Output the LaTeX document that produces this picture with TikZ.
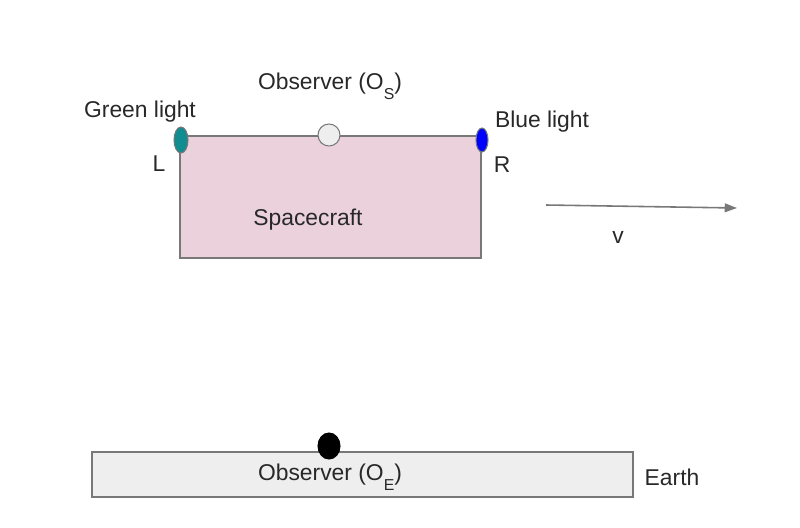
\documentclass[tikz,border=0pt]{standalone}
\usepackage{fontspec}
\setmainfont{Liberation Sans}
\usetikzlibrary{arrows.meta,shapes.geometric}

\definecolor{craftpink}{RGB}{234,209,220}
\definecolor{lightgrey}{RGB}{238,238,238}
\definecolor{edgegrey}{RGB}{120,120,120}
\definecolor{tealgreen}{RGB}{17,140,145}
\definecolor{txtgrey}{RGB}{40,40,40}

\begin{document}
\begin{tikzpicture}[x=0.02cm,y=-0.02cm,>={Triangle[length=7pt,width=5pt]},
		every node/.style={font=\fontsize{13}{15}\selectfont,text=txtgrey}]
		\tikzstyle{body}=[draw=edgegrey,line width=0.9pt,inner sep=0pt]
		\tikzstyle{lamp}=[ellipse,draw=edgegrey,line width=0.6pt,inner sep=0pt]
		\useasboundingbox (0,0) rectangle (800,527);
		% spacecraft
		\node[body,fill=craftpink,minimum width=301*0.02cm,minimum height=122*0.02cm,anchor=north west] (S) at (179,135) {};
		\node (SL) at (308,220) {Spacecraft};
		\node[lamp,fill=tealgreen,minimum width=14*0.02cm,minimum height=26*0.02cm] (G) at (181,140) {};
		\node[lamp,fill=blue,minimum width=12*0.02cm,minimum height=24*0.02cm] (B) at (482,140) {};
		\node[lamp,fill=lightgrey,minimum width=22*0.02cm,minimum height=22*0.02cm] (OS) at (329,135) {};
		\node (GL) at (140,112) {Green light};
		\node (BL) at (542,122) {Blue light};
		\node (OSL) at (330,86) {Observer (O\raisebox{-0.8ex}{\fontsize{9}{10}\selectfont S})};
		\node (L) at (159,164) {L};
		\node (R) at (502,165) {R};
		% velocity
		\coordinate (v0) at (546,205);
		\coordinate (v1) at (737,208);
		\draw[->,draw=edgegrey,fill=edgegrey,line width=0.9pt] (v0) -- (v1);
		\node (V) at (618,237) {v};
		% earth
		\node[body,fill=lightgrey,minimum width=541*0.02cm,minimum height=45*0.02cm,anchor=north west] (E) at (91,451) {};
		\node[lamp,fill=black,draw=black,minimum width=22*0.02cm,minimum height=26*0.02cm] (OE) at (329,446) {};
		\node (OEL) at (330,477) {Observer (O\raisebox{-0.8ex}{\fontsize{9}{10}\selectfont E})};
		\node (EL) at (672,477) {Earth};
	\end{tikzpicture}
\end{document}
